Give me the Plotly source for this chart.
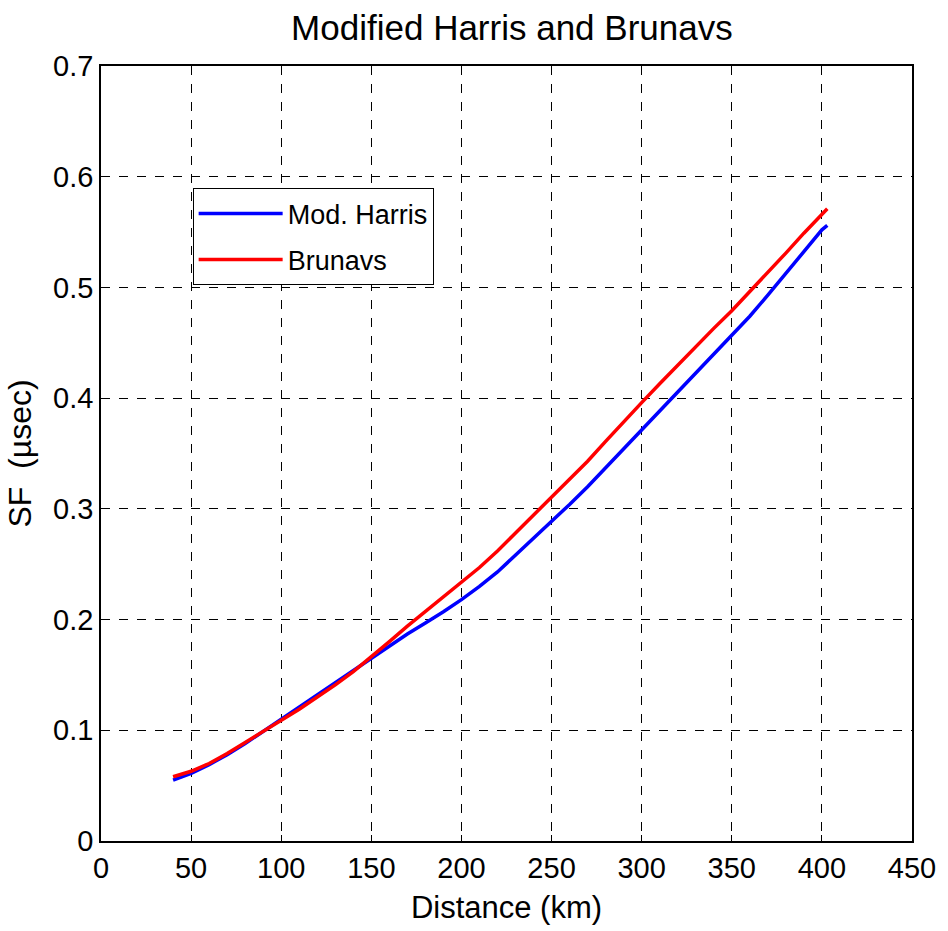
import plotly.graph_objects as go

distance = [40, 50, 60, 70, 80, 90, 100, 110, 120, 130, 140, 150, 160, 170, 180, 190, 200, 210, 220,
            230, 240, 250, 260, 270, 280, 290, 300, 310, 320, 330, 340, 350, 360, 370, 380, 390, 400, 403]
mod_harris = [0.055, 0.061, 0.069, 0.078, 0.088, 0.099, 0.110, 0.121, 0.132, 0.143, 0.154, 0.165, 0.176,
              0.187, 0.197, 0.207, 0.218, 0.230, 0.243, 0.258, 0.273, 0.288, 0.304, 0.320, 0.337, 0.354,
              0.371, 0.388, 0.405, 0.422, 0.439, 0.456, 0.474, 0.493, 0.513, 0.533, 0.552, 0.556]
brunavs = [0.058, 0.063, 0.070, 0.079, 0.089, 0.099, 0.109, 0.119, 0.130, 0.141, 0.153, 0.166, 0.180,
           0.194, 0.207, 0.220, 0.233, 0.247, 0.262, 0.278, 0.294, 0.310, 0.326, 0.343, 0.361, 0.379,
           0.396, 0.413, 0.430, 0.447, 0.463, 0.479, 0.496, 0.513, 0.531, 0.549, 0.566, 0.571]

x_ticks = [0, 50, 100, 150, 200, 250, 300, 350, 400, 450]
y_ticks = [0, 0.1, 0.2, 0.3, 0.4, 0.5, 0.6, 0.7]
y_tick_labels = ["0", "0.1", "0.2", "0.3", "0.4", "0.5", "0.6", "0.7"]

FONT = "Liberation Sans, Arial, sans-serif"

fig = go.Figure()
fig.add_trace(go.Scatter(x=distance, y=mod_harris, mode="lines", name="Mod. Harris",
                         legendgroup="a",
                         line=dict(color="#0000ff", width=3.5)))
fig.add_trace(go.Scatter(x=distance, y=brunavs, mode="lines", name="Brunavs",
                         legendgroup="b",
                         line=dict(color="#ff0000", width=3.5)))

axis_common = dict(showline=True, linecolor="black", linewidth=1.5, mirror=True,
                   showgrid=True, gridcolor="black", gridwidth=1, griddash="dash",
                   zeroline=False, ticks="inside", ticklen=6, tickcolor="black",
                   tickfont=dict(family=FONT, size=29, color="black"))

fig.update_xaxes(range=[0, 450], tickvals=x_ticks, ticktext=[str(v) for v in x_ticks],
                 title=dict(text="Distance (km)", font=dict(family=FONT, size=31, color="black"), standoff=14),
                 **axis_common)
fig.update_yaxes(range=[0, 0.7], tickvals=y_ticks, ticktext=y_tick_labels,
                 title=dict(text="SF  (µsec)", font=dict(family=FONT, size=32, color="black"), standoff=12),
                 **axis_common)

fig.update_layout(
    width=948, height=931,
    margin=dict(l=101, r=27, t=66, b=90),
    paper_bgcolor="white", plot_bgcolor="white",
    title=dict(text="Modified Harris and Brunavs", x=0.54, xanchor="center", y=0.970, yanchor="middle",
               font=dict(family=FONT, size=35, color="black")),
    legend=dict(x=0.113, y=0.842, xanchor="left", yanchor="top",
                bordercolor="black", borderwidth=1, bgcolor="white",
                font=dict(family=FONT, size=27, color="black"),
                itemwidth=84, traceorder="grouped", tracegroupgap=8),
    showlegend=True,
)

fig.write_html("out.html")
